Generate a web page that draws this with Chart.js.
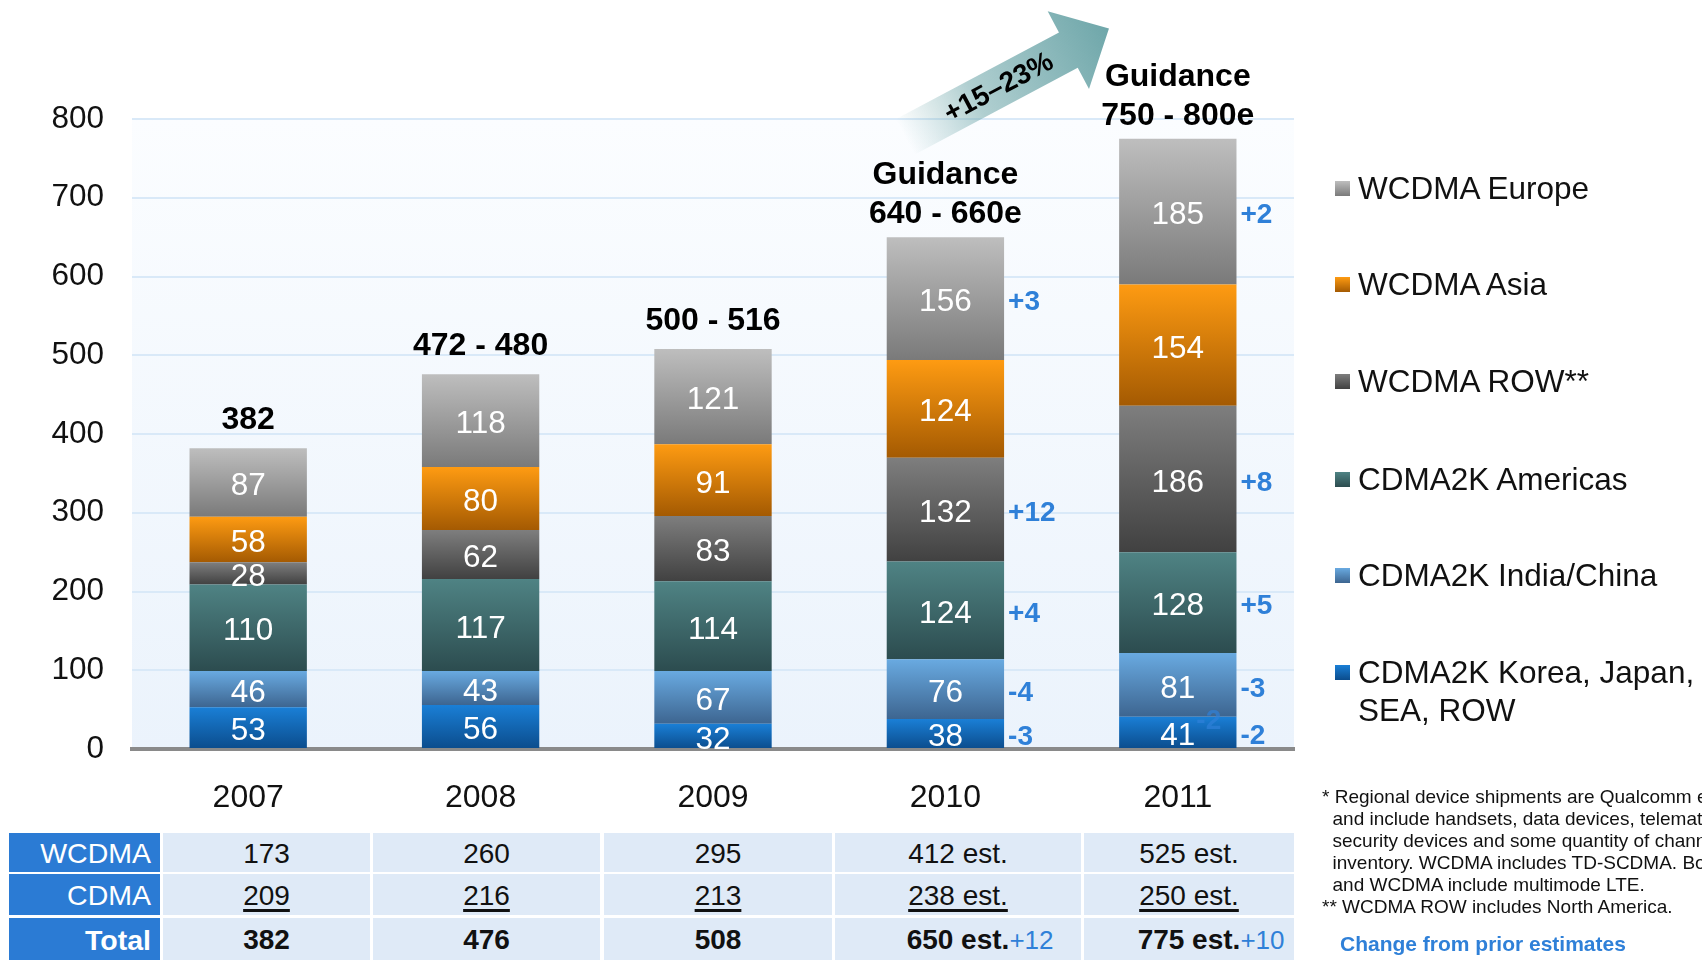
<!DOCTYPE html>
<html>
<head>
<meta charset="utf-8">
<script src="https://cdn.jsdelivr.net/npm/chart.js@4.4.1/dist/chart.umd.min.js"></script>
<style>
    body { margin: 0; width: 1702px; height: 960px; overflow: hidden; background: #fff; position: relative;
           font-family: 'Liberation Sans', Arial, sans-serif; color: #111; }
    #chart { position: absolute; left: 0; top: 0; }
    .legend-item { position: absolute; left: 1358px; font-size: 31.5px; line-height: 38px; white-space: nowrap; }
    .legend-item .box { position: absolute; left: -23px; top: 12px; width: 15px; height: 15px; }
    .cell { position: absolute; font-size: 28px; text-align: center; background: #dfeaf7; white-space: nowrap; }
    .cell .extra { position: absolute; font-size: 26px; }
    .head { position: absolute; left: 9px; width: 142px; padding-right: 9px; font-size: 28.5px; text-align: right;
            background: #2b7bd4; color: #fff; }
    .note { position: absolute; left: 1322px; font-size: 19px; line-height: 22px; white-space: pre; color: #111; }
    .blue { color: #2f80d8; }
</style>
</head>
<body>
<canvas id="chart" width="1702" height="830"></canvas>
<div id="legend"></div>
<div id="table"></div>
<div class="note" style="top:786px;">* Regional device shipments are Qualcomm estimates
  and include handsets, data devices, telematics,
  security devices and some quantity of channel
  inventory. WCDMA includes TD-SCDMA. Both CDMA
  and WCDMA include multimode LTE.
** WCDMA ROW includes North America.</div>
<div class="note blue" style="top:933px; left:1340px; font-size:21px; font-weight:bold;">Change from prior estimates</div>

<script>
// values in millions of units
var years = ['2007', '2008', '2009', '2010', '2011'];
var korea = [53, 56, 32, 38, 41];
var indiaChina = [46, 43, 67, 76, 81];
var americas = [110, 117, 114, 124, 128];
var wcdmaRow = [28, 62, 83, 132, 186];
var wcdmaAsia = [58, 80, 91, 124, 154];
var wcdmaEurope = [87, 118, 121, 156, 185];

// change from prior estimates (blue notes)
var koreaChange = [null, null, null, '-3', '-2'];
var indiaChinaChange = [null, null, null, '-4', '-3'];
var americasChange = [null, null, null, '+4', '+5'];
var rowChange = [null, null, null, '+12', '+8'];
var asiaChange = [null, null, null, null, null];
var europeChange = [null, null, null, '+3', '+2'];

var topLabels = [['382'], ['472 - 480'], ['500 - 516'], ['Guidance', '640 - 660e'], ['Guidance', '750 - 800e']];

var tableWcdma = ['173', '260', '295', '412 est.', '525 est.'];
var tableCdma = ['209', '216', '213', '238 est.', '250 est.'];
var tableTotal = ['382', '476', '508', '650 est.', '775 est.'];
var tableTotalChange = ['', '', '', '+12', '+10'];

var growthNote = '+15\u201323%';

// stacking order is bottom to top
var series = [
    { label: 'CDMA2K Korea, Japan, SEA, ROW', data: korea, change: koreaChange, top: '#1a7fd6', bottom: '#0b4c8c' },
    { label: 'CDMA2K India/China', data: indiaChina, change: indiaChinaChange, top: '#69aae1', bottom: '#3d6590' },
    { label: 'CDMA2K Americas', data: americas, change: americasChange, top: '#4f8384', bottom: '#2c4c4f' },
    { label: 'WCDMA ROW**', data: wcdmaRow, change: rowChange, top: '#7e7e7e', bottom: '#414141' },
    { label: 'WCDMA Asia', data: wcdmaAsia, change: asiaChange, top: '#fe9b12', bottom: '#a45a02' },
    { label: 'WCDMA Europe', data: wcdmaEurope, change: europeChange, top: '#bebebe', bottom: '#7a7a7a' }
];

var FONT = '"Liberation Sans", Arial, sans-serif';
var BLUE = '#2f80d8';

function segmentFill(c) {
    var s = series[c.datasetIndex];
    var chart = c.chart;
    if (c.type !== 'data' || !chart.chartArea) return s.bottom;
    var below = 0;
    for (var i = 0; i < c.datasetIndex; i++) below += series[i].data[c.dataIndex];
    var y = chart.scales.y;
    var y0 = y.getPixelForValue(below + s.data[c.dataIndex]);
    var y1 = y.getPixelForValue(below);
    var g = chart.ctx.createLinearGradient(0, y0, 0, y1);
    g.addColorStop(0, s.top);
    g.addColorStop(1, s.bottom);
    return g;
}

// plot background
var plotBg = {
    id: 'plotBg',
    beforeDraw: function(chart) {
        var a = chart.chartArea, ctx = chart.ctx;
        var g = ctx.createLinearGradient(0, a.top, 0, a.bottom);
        g.addColorStop(0, '#fbfdff');
        g.addColorStop(1, '#ebf3fc');
        ctx.save();
        ctx.fillStyle = g;
        ctx.fillRect(a.left, a.top, a.right - a.left, a.bottom - a.top);
        ctx.restore();
    }
};

// values inside the bars, blue change notes, totals on top
var barLabels = {
    id: 'barLabels',
    afterDatasetsDraw: function(chart) {
        var ctx = chart.ctx;
        ctx.save();
        ctx.textBaseline = 'middle';
        chart.data.datasets.forEach(function(ds, i) {
            var meta = chart.getDatasetMeta(i);
            meta.data.forEach(function(bar, j) {
                var mid = (bar.y + bar.base) / 2;
                ctx.textAlign = 'center';
                ctx.fillStyle = '#fff';
                ctx.font = '31.5px ' + FONT;
                ctx.fillText(ds.data[j], bar.x, mid + 4);
                var ch = series[i].change[j];
                if (ch) {
                    ctx.textAlign = 'left';
                    ctx.fillStyle = BLUE;
                    ctx.font = 'bold 28px ' + FONT;
                    ctx.fillText(ch, bar.x + bar.width / 2 + 4, mid + 4);
                }
            });
        });

        // faint leftover note on the 2011 bar
        var k = chart.getDatasetMeta(0).data[4];
        ctx.textAlign = 'center';
        ctx.fillStyle = 'rgba(47,128,216,0.7)';
        ctx.font = 'bold 28px ' + FONT;
        ctx.fillText(koreaChange[4], k.x + 31, k.y + 5);

        var last = chart.getDatasetMeta(series.length - 1);
        ctx.fillStyle = '#000';
        ctx.font = 'bold 32px ' + FONT;
        last.data.forEach(function(bar, j) {
            var lines = topLabels[j];
            var off = lines.length > 1 ? 23 : 28;
            for (var n = 0; n < lines.length; n++) {
                ctx.fillText(lines[n], bar.x, bar.y - off - (lines.length - 1 - n) * 39);
            }
        });
        ctx.restore();
    }
};

// growth arrow between the guidance labels
var growthArrow = {
    id: 'growthArrow',
    afterDraw: function(chart) {
        var ctx = chart.ctx;
        ctx.save();
        ctx.translate(905, 137);
        ctx.rotate(-28 * Math.PI / 180);
        var g = ctx.createLinearGradient(0, 0, 230, 0);
        g.addColorStop(0, 'rgba(111,167,170,0)');
        g.addColorStop(0.35, 'rgba(111,167,170,0.55)');
        g.addColorStop(1, 'rgba(111,167,170,1)');
        ctx.fillStyle = g;
        ctx.beginPath();
        ctx.moveTo(0, -20);
        ctx.lineTo(185, -20);
        ctx.lineTo(185, -44);
        ctx.lineTo(231, 0);
        ctx.lineTo(185, 44);
        ctx.lineTo(185, 20);
        ctx.lineTo(0, 20);
        ctx.closePath();
        ctx.fill();
        ctx.fillStyle = '#000';
        ctx.font = 'bold 28px ' + FONT;
        ctx.textAlign = 'center';
        ctx.textBaseline = 'middle';
        ctx.fillText(growthNote, 106, 1);
        ctx.restore();
    }
};

new Chart(document.getElementById('chart').getContext('2d'), {
    type: 'bar',
    data: {
        labels: years,
        datasets: series.map(function(s) {
            return {
                label: s.label,
                data: s.data,
                backgroundColor: segmentFill,
                borderWidth: 0,
                barPercentage: 1,
                categoryPercentage: 0.505
            };
        })
    },
    options: {
        responsive: false,
        animation: false,
        layout: { padding: { top: 119, right: 408, left: 0, bottom: 0 } },
        plugins: { legend: { display: false }, tooltip: { enabled: false } },
        scales: {
            x: {
                stacked: true,
                grid: { display: false },
                border: { color: '#8a8a8a', width: 4 },
                ticks: { color: '#111', font: { family: FONT, size: 32 }, padding: 22 },
                afterFit: function(scale) { scale.height = 81; }
            },
            y: {
                stacked: true,
                min: 0,
                max: 800,
                grid: { color: '#d9e9f8', lineWidth: 2, drawTicks: false },
                border: { display: false },
                ticks: { stepSize: 100, color: '#111', font: { family: FONT, size: 31.5 }, padding: 28 },
                afterFit: function(scale) { scale.width = 132; }
            }
        }
    },
    plugins: [plotBg, barLabels, growthArrow]
});

// legend, top to bottom
var legendRows = [671, 574, 478, 380, 283, 187];
var legendHtml = '';
series.forEach(function(s, i) {
    var text = s.label.replace('Japan, SEA', 'Japan,<br>SEA');
    legendHtml += '<div class="legend-item" style="top:' + (legendRows[i] - 18) + 'px">' +
        '<span class="box" style="background:linear-gradient(' + s.top + ',' + s.bottom + ')"></span>' + text + '</div>';
});
document.getElementById('legend').innerHTML = legendHtml;

// data table under the chart
var cols = [[163, 207], [373, 227], [604, 228], [835, 246], [1084, 210]];
var tableRows = [
    { head: 'WCDMA', cells: tableWcdma, top: 833, height: 39 },
    { head: 'CDMA', cells: tableCdma, top: 874, height: 41, underline: true },
    { head: 'Total', cells: tableTotal, top: 918, height: 42, bold: true, extra: tableTotalChange }
];
var tableHtml = '';
tableRows.forEach(function(r) {
    var lh = 'top:' + r.top + 'px;height:' + r.height + 'px;line-height:' + (r.height + 2) + 'px;';
    tableHtml += '<div class="head" style="' + lh + (r.bold ? 'font-weight:bold;' : '') + '">' + r.head + '</div>';
    r.cells.forEach(function(v, j) {
        var txt = v;
        if (r.underline) txt = '<span style="text-decoration:underline;text-decoration-thickness:3px;text-underline-offset:4px">' + v + '</span>';
        if (r.bold) txt = '<b style="position:relative">' + v +
            (r.extra && r.extra[j] ? '<span class="extra blue" style="left:100%;font-weight:normal">' + r.extra[j] + '</span>' : '') + '</b>';
        tableHtml += '<div class="cell" style="' + lh + 'left:' + cols[j][0] + 'px;width:' + cols[j][1] + 'px">' + txt + '</div>';
    });
});
document.getElementById('table').innerHTML = tableHtml;
</script>
</body>
</html>
